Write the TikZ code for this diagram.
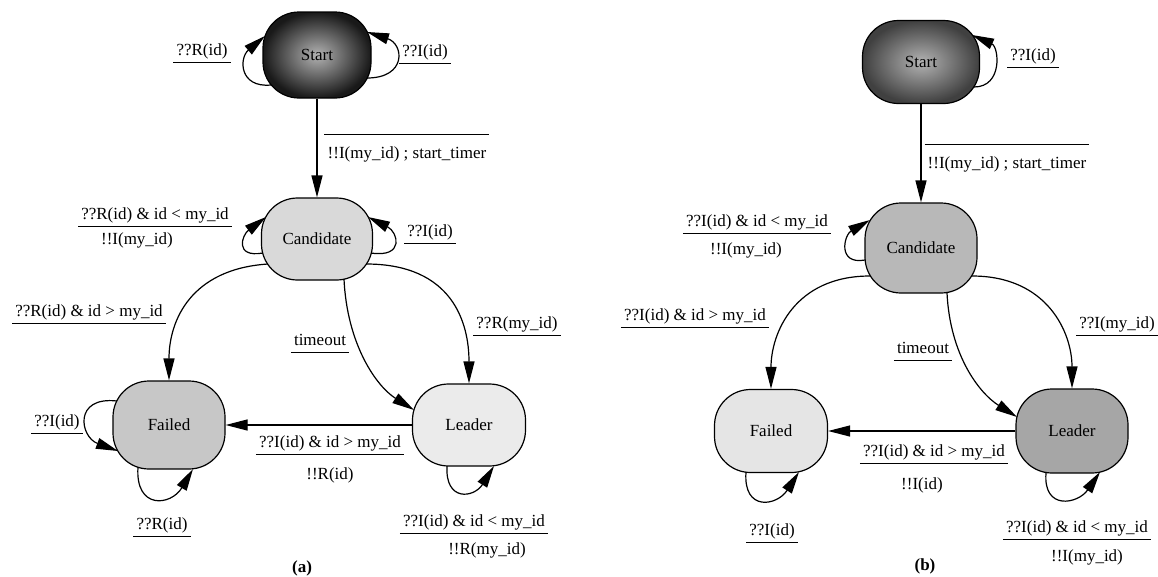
\documentclass[tikz,border=0pt]{standalone}
\usepackage{fontspec}
\setmainfont{Liberation Serif}
\usetikzlibrary{arrows.meta}
\begin{document}
\begin{tikzpicture}[x=1pt,y=-1pt,
  every node/.style={font=\fontsize{17}{20}\selectfont},
  state/.style={draw, line width=1.2pt, rounded corners=36pt, inner sep=0pt},
  lbl/.style={inner sep=0pt, text height=12pt, text depth=4pt},
  edge/.style={line width=1.2pt, -{Triangle[length=22pt,width=11pt]}},
  rulel/.style={line width=1.1pt}]
\useasboundingbox (0,0) rectangle (1158,576);

% ---------- panel (a) states ----------
\node[state, inner color=black!30, outer color=black!90, minimum width=108pt, minimum height=86pt] (startA) at (317,55) {Start};
\node[state, fill=black!15, minimum width=111pt, minimum height=82pt] (candA) at (317,239) {Candidate};
\node[state, fill=black!22, minimum width=112pt, minimum height=88pt] (failA) at (169,425) {Failed};
\node[state, fill=black!8, minimum width=113pt, minimum height=82pt] (leadA) at (469,425) {Leader};

% ---------- panel (b) states ----------
\node[state, inner color=black!30, outer color=black!75, minimum width=117pt, minimum height=83pt] (startB) at (921,62) {Start};
\node[state, fill=black!28, minimum width=112pt, minimum height=90pt] (candB) at (921,248) {Candidate};
\node[state, fill=black!10, minimum width=113pt, minimum height=83pt] (failB) at (771,431) {Failed};
\node[state, fill=black!35, minimum width=112pt, minimum height=84pt] (leadB) at (1072,431) {Leader};

% ---------- panel (a) transitions ----------
\draw[edge] (startA) -- (candA);
\draw[edge] ([shift={(-46,30)}]startA.center) .. controls +(-32,3) and +(-26,22) .. ([shift={(-52,-19)}]startA.center);
\draw[edge] ([shift={(50,23)}]startA.center) .. controls +(40,0) and +(37,12) .. ([shift={(50,-23)}]startA.center);
\draw[edge] ([shift={(-54,14)}]candA.center) .. controls +(-29,5) and +(-24,18) .. ([shift={(-51,-22)}]candA.center);
\draw[edge] ([shift={(54,14)}]candA.center) .. controls +(34,5) and +(30,15) .. ([shift={(51,-22)}]candA.center);
\draw[edge] ([shift={(-49,25)}]candA.center) .. controls +(-77,5) and +(0,-60) .. (failA.north);
\draw[edge] ([shift={(49,25)}]candA.center) .. controls +(87,0) and +(0,-60) .. (leadA.north);
\draw[edge] ([shift={(27,40)}]candA.center) .. controls +(3,65) and +(-38,-24) .. ([shift={(-55,-15)}]leadA.center);
\draw[edge] (leadA) -- (failA);
\draw[edge] ([shift={(-52,-24)}]failA.center) .. controls +(-44,-5) and +(-38,-14) .. ([shift={(-51,26)}]failA.center);
\draw[edge] ([shift={(-31,42)}]failA.center) .. controls +(-3,43) and +(-22,37) .. ([shift={(24,44)}]failA.center);
\draw[edge] ([shift={(-22,41)}]leadA.center) .. controls +(-2,36) and +(-20,32) .. ([shift={(25,41)}]leadA.center);

% ---------- panel (b) transitions ----------
\draw[edge] (startB) -- (candB);
\draw[edge] ([shift={(53,25)}]startB.center) .. controls +(29,0) and +(27,12) .. ([shift={(51,-27)}]startB.center);
\draw[edge] ([shift={(-56,12)}]candB.center) .. controls +(-28,5) and +(-26,15) .. ([shift={(-51,-28)}]candB.center);
\draw[edge] ([shift={(-51,28)}]candB.center) .. controls +(-76,0) and +(0,-55) .. (failB.north);
\draw[edge] ([shift={(51,28)}]candB.center) .. controls +(76,0) and +(0,-55) .. (leadB.north);
\draw[edge] ([shift={(26,45)}]candB.center) .. controls +(3,62) and +(-38,-24) .. ([shift={(-55,-14)}]leadB.center);
\draw[edge] (leadB) -- (failB);
\draw[edge] ([shift={(-25,41)}]failB.center) .. controls +(-3,40) and +(-22,34) .. ([shift={(28,41)}]failB.center);
\draw[edge] ([shift={(-26,42)}]leadB.center) .. controls +(-3,38) and +(-22,32) .. ([shift={(28,41)}]leadB.center);

% ---------- panel (a) labels ----------
\node[lbl] (la1) at (202,51) {??R(id)};
\node[lbl] (la2) at (425,52) {??I(id)};
\node[lbl] (la3) at (407,154) {!!I(my\_id) ; start\_timer};
\node[lbl] (la4g) at (155,215) {??R(id) \& id < my\_id};
\node[lbl] (la4a) at (137,240) {!!I(my\_id)};
\node[lbl] (la5) at (430,232) {??I(id)};
\node[lbl] (la6) at (89,312) {??R(id) \& id > my\_id};
\node[lbl] (la7) at (517,324) {??R(my\_id)};
\node[lbl] (la8) at (320,341) {timeout};
\node[lbl] (la9g) at (330,443) {??I(id) \& id > my\_id};
\node[lbl] (la9a) at (330,475) {!!R(id)};
\node[lbl] (la10) at (57,422) {??I(id)};
\node[lbl] (la11) at (162,525) {??R(id)};
\node[lbl] (la12g) at (474,522) {??I(id) \& id < my\_id};
\node[lbl] (la12a) at (487,550) {!!R(my\_id)};
\node[lbl, font=\fontsize{17}{20}\selectfont\bfseries] (capA) at (302,568) {(a)};

\foreach \n in {la1,la2,la4g,la5,la6,la7,la8,la9g,la10,la11,la12g}
  \draw[rulel] ([xshift=-3pt,yshift=-3pt]\n.south west) -- ([xshift=3pt,yshift=-3pt]\n.south east);
\draw[rulel] ([xshift=-3pt,yshift=11pt]la3.north west) -- ([xshift=2pt,yshift=11pt]la3.north east);

% ---------- panel (b) labels ----------
\node[lbl] (lb1) at (1033,56) {??I(id)};
\node[lbl] (lb2) at (1007,164) {!!I(my\_id) ; start\_timer};
\node[lbl] (lb3g) at (757,222) {??I(id) \& id < my\_id};
\node[lbl] (lb3a) at (746,250) {!!I(my\_id)};
\node[lbl] (lb4) at (695,316) {??I(id) \& id > my\_id};
\node[lbl] (lb5) at (923,349) {timeout};
\node[lbl] (lb6) at (1117,324) {??I(my\_id)};
\node[lbl] (lb7g) at (934,452) {??I(id) \& id > my\_id};
\node[lbl] (lb7a) at (922,485) {!!I(id)};
\node[lbl] (lb8) at (772,531) {??I(id)};
\node[lbl] (lb9g) at (1077,528) {??I(id) \& id < my\_id};
\node[lbl] (lb9a) at (1087,557) {!!I(my\_id)};
\node[lbl, font=\fontsize{17}{20}\selectfont\bfseries] (capB) at (925,566) {(b)};

\foreach \n in {lb1,lb3g,lb4,lb5,lb6,lb7g,lb8,lb9g}
  \draw[rulel] ([xshift=-3pt,yshift=-3pt]\n.south west) -- ([xshift=3pt,yshift=-3pt]\n.south east);
\draw[rulel] ([xshift=-3pt,yshift=11pt]lb2.north west) -- ([xshift=2pt,yshift=11pt]lb2.north east);
\end{tikzpicture}
\end{document}
